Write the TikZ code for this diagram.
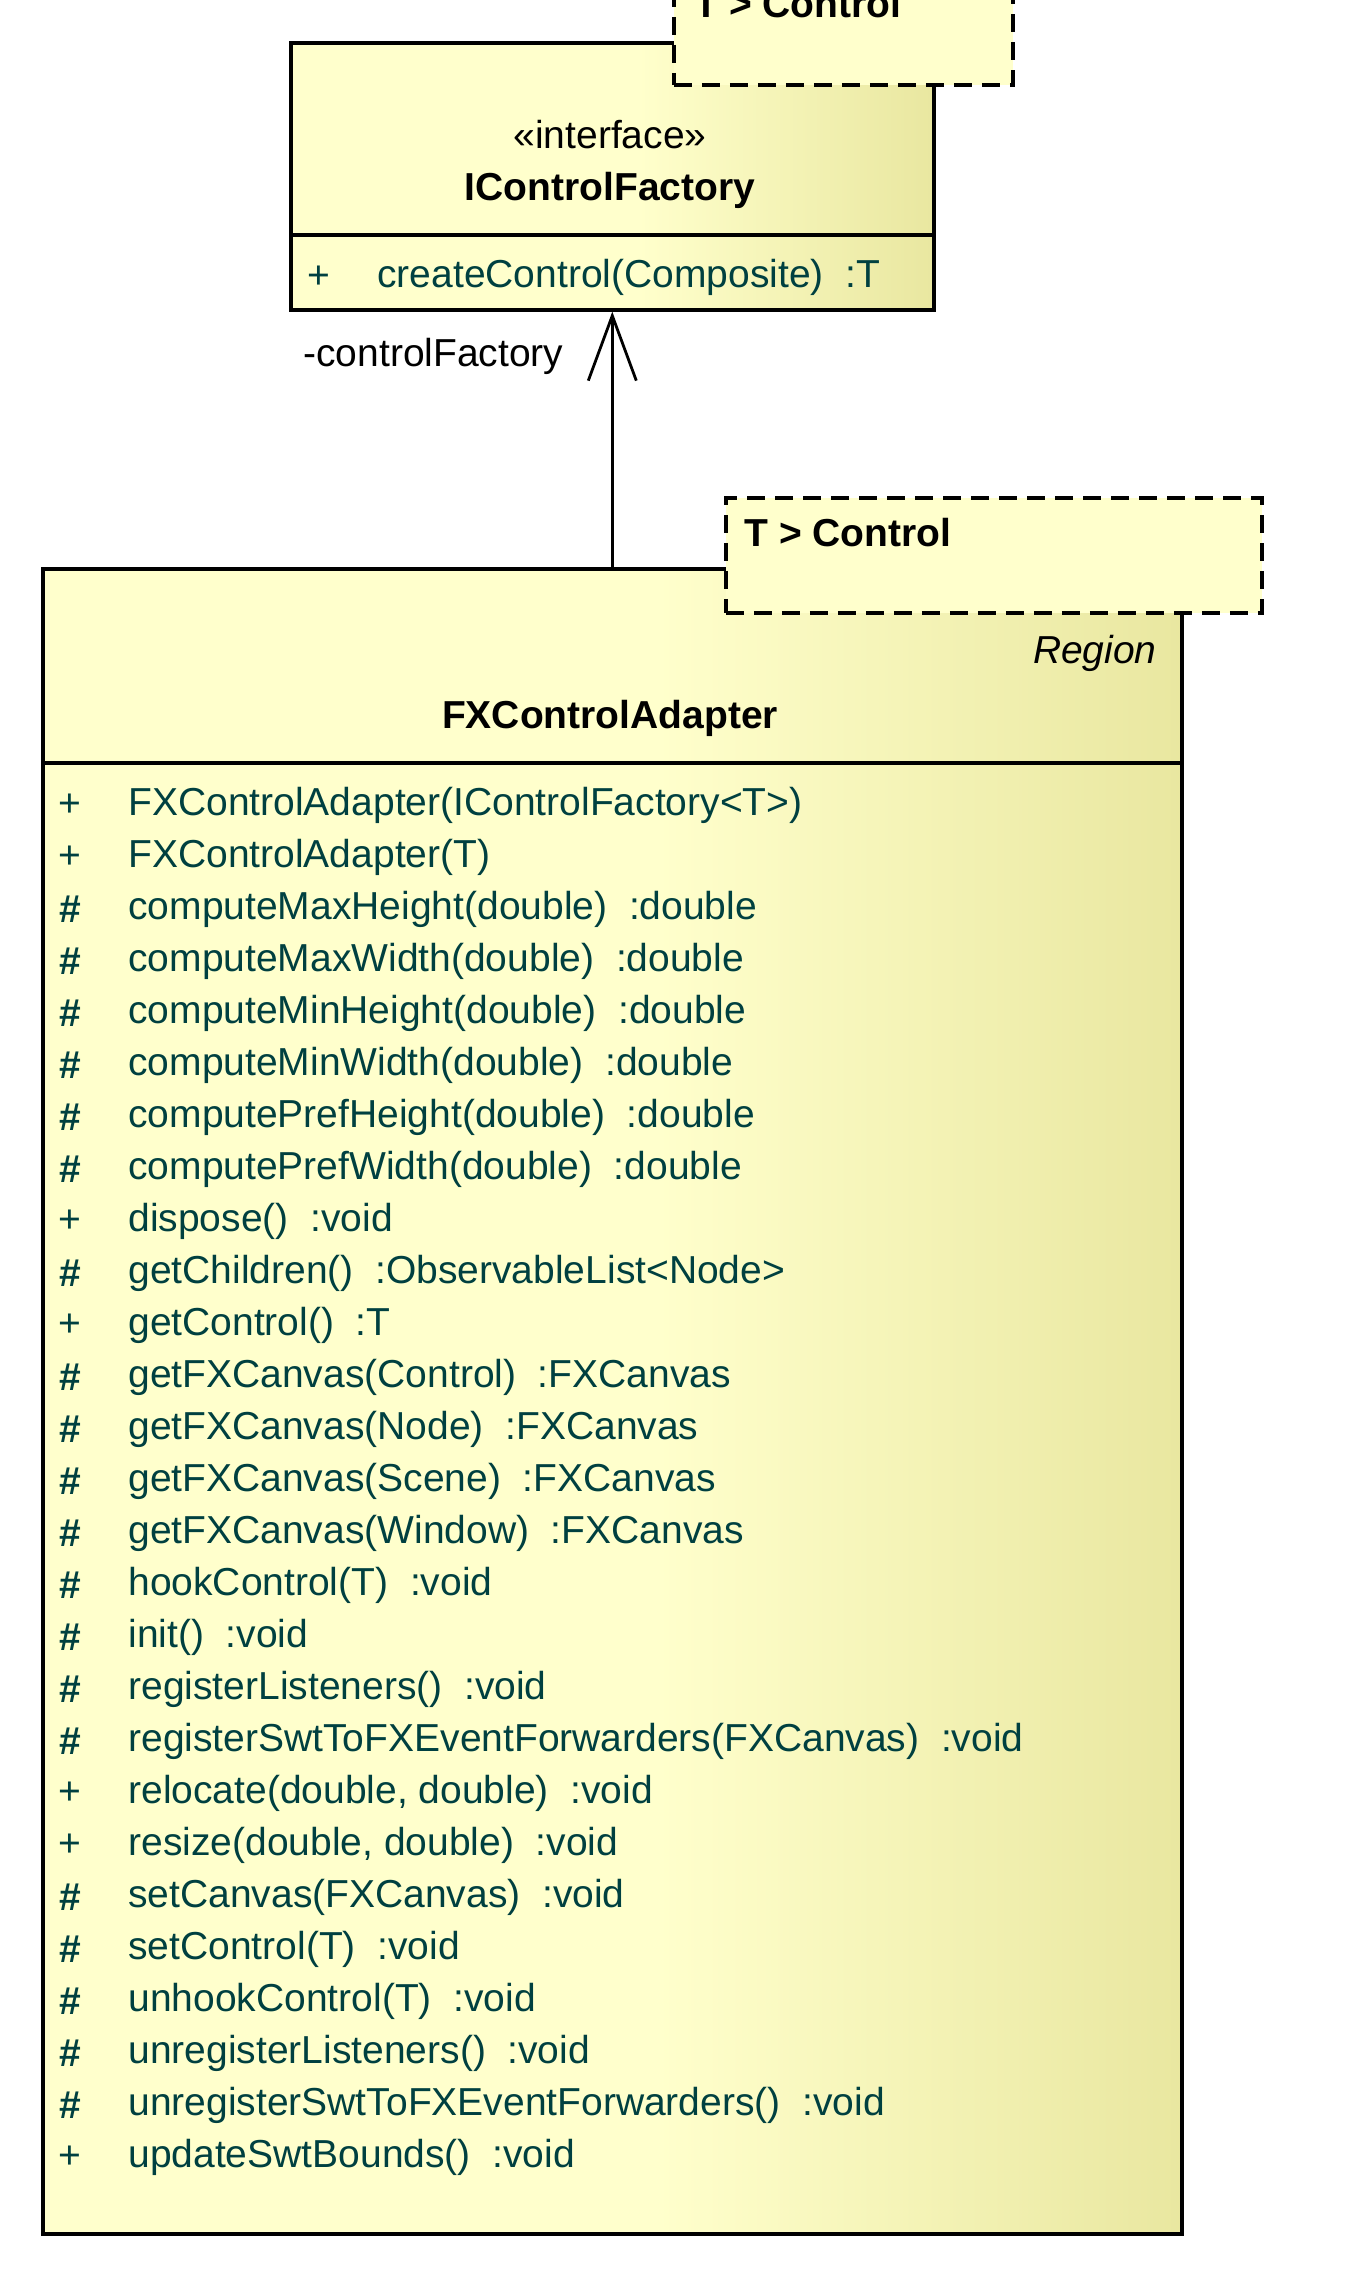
\documentclass[tikz,border=0pt]{standalone}
\usepackage{fontspec}
\setmainfont{Liberation Sans}
\usetikzlibrary{arrows.meta}
\definecolor{umlcream}{RGB}{255,255,204}
\definecolor{umlkhaki}{RGB}{233,231,160}
\definecolor{optext}{RGB}{0,64,64}
\pgfdeclarehorizontalshading{umlfill}{100bp}{color(0bp)=(umlcream); color(25bp)=(umlcream); color(52bp)=(umlcream); color(75bp)=(umlkhaki); color(100bp)=(umlkhaki)}
\newcommand\umlsize{\fontsize{19.5}{23}\selectfont}

\begin{document}
\begin{tikzpicture}[x=0.5pt, y=-0.5pt, every node/.style = {inner sep=0pt, font=\umlsize},
  class box/.style = {draw, line width=1.8pt, shade, shading=umlfill, anchor=north west},
  template box/.style = {draw, line width=1.8pt, dash pattern=on 9pt off 5pt, fill=umlcream, anchor=north west},
  bold text/.style = {font=\umlsize\bfseries},
  op text/.style = {anchor=west, text=optext},
  vis text/.style = {text=optext},
  assoc edge/.style = {-{Straight Barb[length=32.5pt, width=24pt]}, line width=1.4pt}]
\clip (0,0) rectangle (1364,2276);
\fill[white] (0,0) rectangle (1364,2276);
% interface
\node[class box, minimum width=321.5pt, minimum height=133.5pt] (factory) at (289,41) {};
\draw[line width=1.8pt] (289,235) -- (932,235);
\node[template box, minimum width=169.5pt, minimum height=57.5pt] (factory tpl) at (672,-32) {};
\node[bold text, anchor=west] (factory tpl text) at (694,4) {T > Control};
\node (factory stereo) at (610,135) {«interface»};
\node[bold text] (factory name) at (610,190) {IControlFactory};
\node[vis text] (factory vis) at (319,277) {+};
\node[op text] (factory op) at (377,277) {createControl(Composite)~~:T};
% adapter
\node[class box, minimum width=569.5pt, minimum height=832.5pt] (adapter) at (41,567) {};
\draw[line width=1.8pt] (41,763) -- (1180,763);
\node[template box, minimum width=268pt, minimum height=57.5pt] (adapter tpl) at (724,496) {};
\node[bold text, anchor=west] (adapter tpl text) at (744,533) {T > Control};
\node[font=\umlsize\itshape, anchor=east] (adapter parent) at (1157,653) {Region};
\node[bold text] (adapter name) at (610,718) {FXControlAdapter};
\foreach \vis/\op [count=\i from 0] in {
    +/FXControlAdapter(IControlFactory<T>),
    +/FXControlAdapter(T),
    \textbf{\#}/computeMaxHeight(double)~~:double,
    \textbf{\#}/computeMaxWidth(double)~~:double,
    \textbf{\#}/computeMinHeight(double)~~:double,
    \textbf{\#}/computeMinWidth(double)~~:double,
    \textbf{\#}/computePrefHeight(double)~~:double,
    \textbf{\#}/computePrefWidth(double)~~:double,
    +/dispose()~~:void,
    \textbf{\#}/getChildren()~~:ObservableList<Node>,
    +/getControl()~~:T,
    \textbf{\#}/getFXCanvas(Control)~~:FXCanvas,
    \textbf{\#}/getFXCanvas(Node)~~:FXCanvas,
    \textbf{\#}/getFXCanvas(Scene)~~:FXCanvas,
    \textbf{\#}/getFXCanvas(Window)~~:FXCanvas,
    \textbf{\#}/hookControl(T)~~:void,
    \textbf{\#}/init()~~:void,
    \textbf{\#}/registerListeners()~~:void,
    \textbf{\#}/registerSwtToFXEventForwarders(FXCanvas)~~:void,
    +/{relocate(double, double)~~:void},
    +/{resize(double, double)~~:void},
    \textbf{\#}/setCanvas(FXCanvas)~~:void,
    \textbf{\#}/setControl(T)~~:void,
    \textbf{\#}/unhookControl(T)~~:void,
    \textbf{\#}/unregisterListeners()~~:void,
    \textbf{\#}/unregisterSwtToFXEventForwarders()~~:void,
    +/updateSwtBounds()~~:void}
  { \node[vis text] (vis\i) at (70,805+52*\i) {\vis};
    \node[op text] (op\i) at (128,805+52*\i) {\op}; }
% association
\draw[assoc edge] (adapter.north) -- (factory.south);
\node[anchor=west] (assoc label) at (303,356) {-controlFactory};
\end{tikzpicture}
\end{document}
